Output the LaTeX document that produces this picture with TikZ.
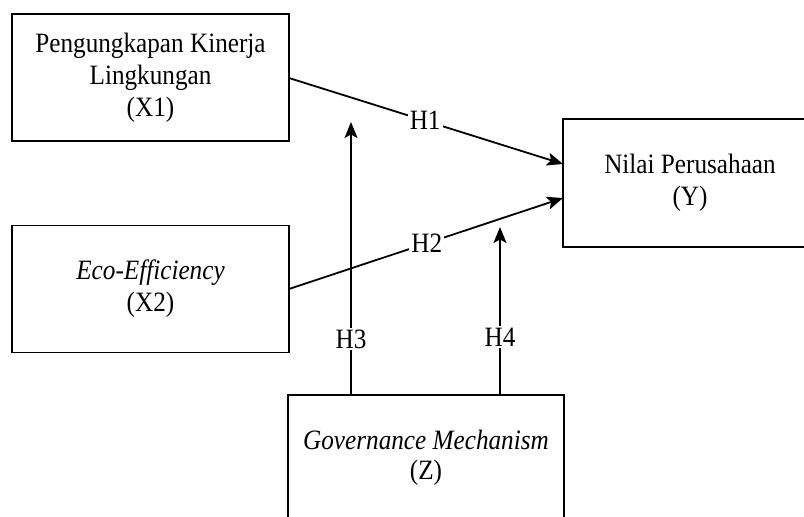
\documentclass[tikz,border=0pt]{standalone}
\usepackage{fontspec}
\setmainfont{Liberation Serif}[FakeStretch=0.9]
\usetikzlibrary{arrows.meta}
\begin{document}
\begin{tikzpicture}[x=1pt,y=-1pt,
  every node/.style={font=\fontsize{28}{32}\selectfont},
  box/.style={draw,line width=1.8pt,rectangle,align=center,inner sep=0pt},
  conn/.style={line width=1.8pt,-{Stealth[length=16pt,width=13pt,inset=3.5pt]}},
  lab/.style={fill=white,inner sep=2pt}]
\clip (0,0) rectangle (804,517);
\fill[white] (0,0) rectangle (804,517);
\node[box,minimum width=277pt,minimum height=127pt] (x1) at (150.5,77.5) {Pengungkapan Kinerja\\Lingkungan\\(X1)};
\node[box,minimum width=277pt,minimum height=127pt] (x2) at (150.5,289) {\textit{Eco-Efficiency}\\(X2)};
\node[box,minimum width=254pt,minimum height=128pt] (y) at (690,183) {Nilai Perusahaan\\(Y)};
\node[box,minimum width=276pt,minimum height=126pt,font=\fontsize{28}{30}\selectfont] (z) at (426,458) {\textit{Governance Mechanism}\\(Z)};
\coordinate (a1) at (289,78);
\coordinate (b1) at (563,164);
\coordinate (a2) at (289,289);
\coordinate (b2) at (563,198);
\coordinate (a3) at (351,395);
\coordinate (b3) at (351,122);
\coordinate (a4) at (500,395);
\coordinate (b4) at (500,227);
\draw[conn] (a1) -- node[lab,pos=0.497] (h1) {H1} (b1);
\draw[conn] (a2) -- node[lab,pos=0.503] (h2) {H2} (b2);
\draw[conn] (a3) -- node[lab,pos=0.205] (h3) {H3} (b3);
\draw[conn] (a4) -- node[lab,pos=0.345] (h4) {H4} (b4);
\end{tikzpicture}
\end{document}
